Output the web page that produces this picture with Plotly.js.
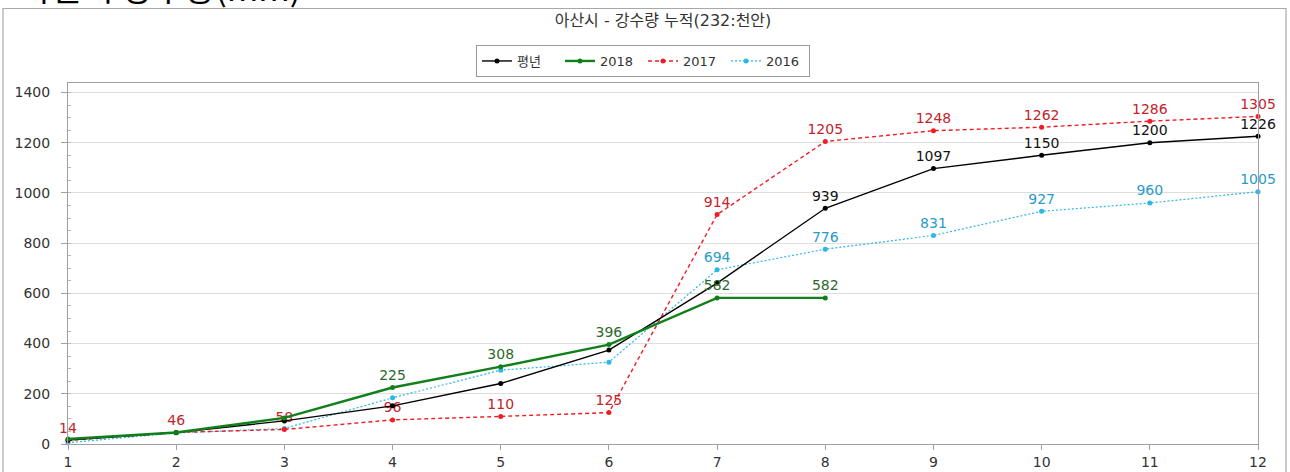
<!DOCTYPE html>
<html>
<head>
<meta charset="utf-8">
<script src="https://cdn.plot.ly/plotly-3.0.1.min.js"></script>
<style>
html,body{margin:0;padding:0;background:#fff;}
#chart{width:1290px;height:472px;}
</style>
</head>
<body>
<div id="chart"></div>
<script>
// ---- data ----
const months = [1, 2, 3, 4, 5, 6, 7, 8, 9, 10, 11, 12];
const normalVals = [16, 46, 92, 152, 241, 374, 641, 939, 1097, 1150, 1200, 1226];
const vals2018 = [20, 46, 104, 225, 308, 396, 582, 582];
const vals2017 = [14, 46, 58, 96, 110, 125, 914, 1205, 1248, 1262, 1286, 1305];
const vals2016 = [5, 44, 62, 184, 294, 326, 694, 776, 831, 927, 960, 1005];
const seriesNames = ["평년", "2018", "2017", "2016"];
// months whose value label is printed
const labelled = {
  normal: [8, 9, 10, 11, 12],
  y2018: [4, 5, 6, 7, 8],
  y2017: [1, 2, 3, 4, 5, 6, 7, 8, 9, 10, 11, 12],
  y2016: [7, 8, 9, 10, 11, 12]
};
const chartTitle = "아산시 - 강수량 누적(232:천안)";
const headerText = "아산시 강수량(mm)";

function labels(vals, show) {
  return vals.map((v, i) => show.indexOf(months[i]) >= 0 ? String(v) : "");
}

const FONT = "DejaVu Sans, Verdana, Noto Sans CJK KR, sans-serif";

function trace(name, vals, show, lineColor, width, dash, textColor, rank) {
  return {
    x: months.slice(0, vals.length),
    y: vals,
    name: name,
    type: "scatter",
    mode: "lines+markers+text",
    line: {color: lineColor, width: width, dash: dash},
    marker: {color: lineColor, size: 5},
    text: labels(vals, show),
    textposition: "top center",
    textfont: {family: FONT, size: 14, color: textColor},
    cliponaxis: false,
    legendrank: rank
  };
}

const data = [
  trace(seriesNames[3], vals2016, labelled.y2016, "#2bb7e9", 1.2, "2px,2px", "#2a9bc8", 4),
  trace(seriesNames[2], vals2017, labelled.y2017, "#f21c24", 1.4, "4px,3px", "#c3232b", 3),
  trace(seriesNames[0], normalVals, labelled.normal, "#000000", 1.4, "solid", "#111111", 1),
  trace(seriesNames[1], vals2018, labelled.y2018, "#11801a", 2.4, "solid", "#2b6a2b", 2)
];

// plot area in px: left 68, right 1258, top 83, bottom 444
const L = 68, R = 1258, T = 83, B = 444;
const pw = R - L, ph = B - T;
const px = v => (v - L) / pw;
const py = v => (B - v) / ph;

const layout = {
  width: 1290,
  height: 472,
  margin: {l: L, r: 1290 - R, t: T, b: 472 - B},
  paper_bgcolor: "#ffffff",
  plot_bgcolor: "#ffffff",
  font: {family: FONT, size: 12, color: "#333"},
  showlegend: true,
  legend: {
    orientation: "h",
    x: px(643), xanchor: "center",
    y: py(45), yanchor: "top",
    bordercolor: "#9a9a9a", borderwidth: 1,
    bgcolor: "#ffffff",
    font: {family: FONT, size: 13, color: "#333"},
    itemwidth: 30,
    entrywidth: 38,
    traceorder: "normal"
  },
  title: {
    text: chartTitle,
    font: {family: FONT, size: 16, color: "#333"},
    x: 0.5, xref: "paper", xanchor: "center",
    y: 1 - 20 / 472, yref: "container", yanchor: "middle"
  },
  xaxis: {
    range: [1, 12],
    tickmode: "linear", tick0: 1, dtick: 1,
    showgrid: false,
    zeroline: false,
    showline: true, linecolor: "#a0a0a0", linewidth: 1,
    mirror: true,
    ticks: "outside", ticklen: 5, tickcolor: "#a0a0a0",
    tickfont: {family: FONT, size: 14, color: "#333"}
  },
  yaxis: {
    range: [0, 1438],
    tickmode: "linear", tick0: 0, dtick: 200,
    showgrid: true, gridcolor: "#dedede", gridwidth: 1,
    zeroline: false,
    showline: true, linecolor: "#a0a0a0", linewidth: 1,
    mirror: true,
    ticks: "outside", ticklen: 6, tickcolor: "#a0a0a0",
    minor: {dtick: 50, ticks: "inside", ticklen: 3, tickcolor: "#b8b8b8", showgrid: false},
    tickfont: {family: FONT, size: 14, color: "#333"},
    ticklabelstandoff: 8
  },
  shapes: [
    {
      type: "rect", xref: "paper", yref: "paper",
      x0: px(3), x1: px(1286), y0: py(490), y1: py(8.5),
      line: {color: "#a8a8a8", width: 1.2},
      fillcolor: "rgba(0,0,0,0)",
      layer: "below"
    }
  ],
  annotations: [
    {
      text: headerText,
      xref: "paper", yref: "paper",
      x: px(18), xanchor: "left",
      y: py(13), yanchor: "bottom",
      showarrow: false,
      font: {family: "Noto Sans CJK KR, sans-serif", size: 34, color: "#000"}
    }
  ]
};

Plotly.newPlot("chart", data, layout, {staticPlot: true, displayModeBar: false});
</script>
</body>
</html>
